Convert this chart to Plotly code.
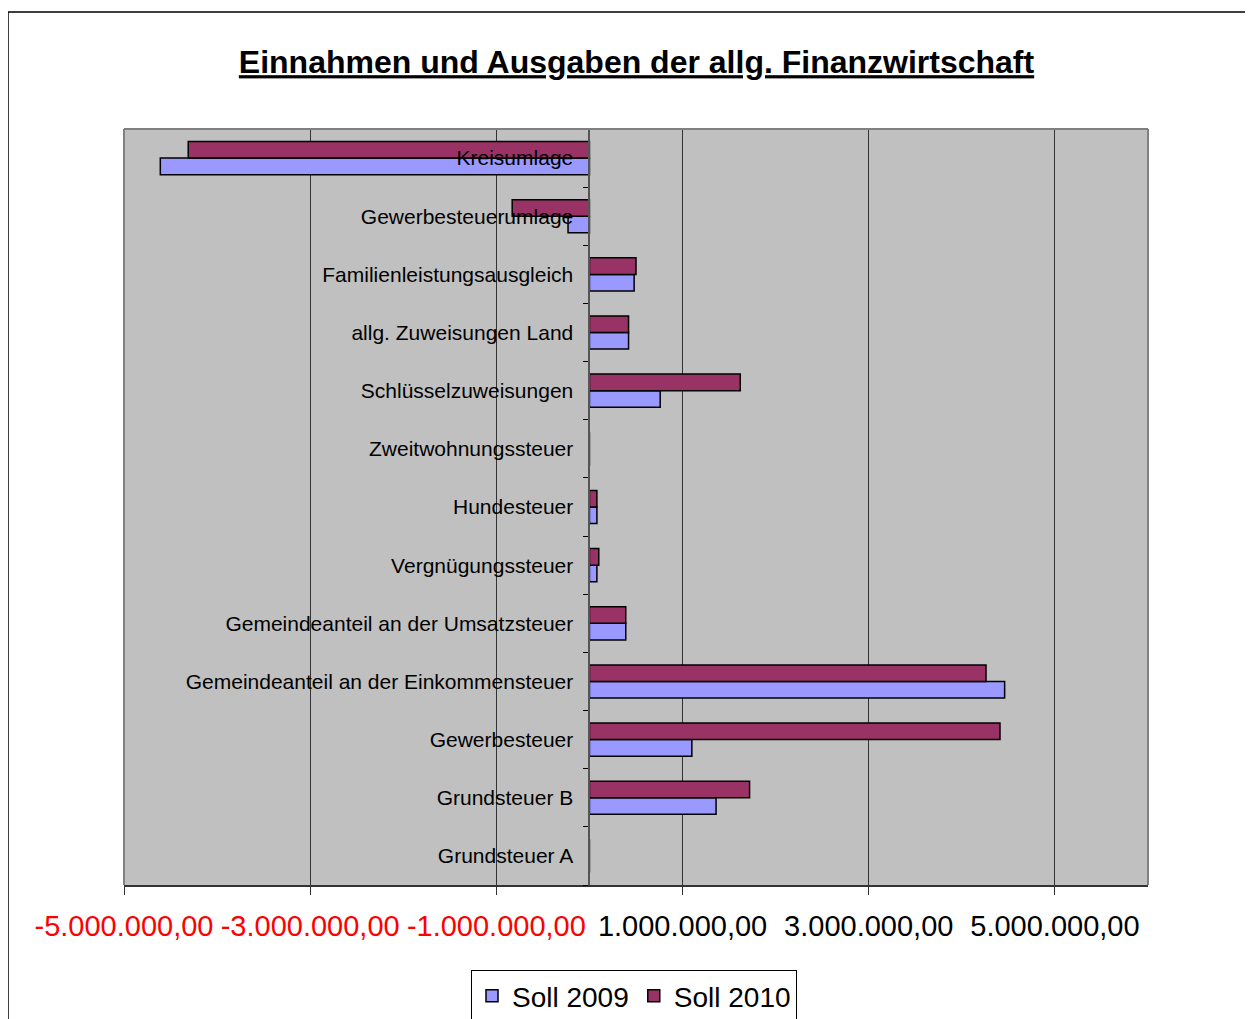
import plotly.graph_objects as go

categories = [
    "Kreisumlage",
    "Gewerbesteuerumlage",
    "Familienleistungsausgleich",
    "allg. Zuweisungen Land",
    "Schlüsselzuweisungen",
    "Zweitwohnungssteuer",
    "Hundesteuer",
    "Vergnügungssteuer",
    "Gemeindeanteil an der Umsatzsteuer",
    "Gemeindeanteil an der Einkommensteuer",
    "Gewerbesteuer",
    "Grundsteuer B",
    "Grundsteuer A",
]
soll_2009 = [-4610000, -230000, 480000, 420000, 760000, 0, 80000, 80000, 390000, 4460000, 1100000, 1360000, 0]
soll_2010 = [-4310000, -830000, 500000, 420000, 1620000, 0, 80000, 100000, 390000, 4260000, 4410000, 1720000, 0]
tick_values = [-5000000, -3000000, -1000000, 1000000, 3000000, 5000000]
x_min, x_max = -5000000, 6000000


def fmt_de(v):
    s = f"{abs(v):,.2f}".replace(",", "X").replace(".", ",").replace("X", ".")
    return ("-" if v < 0 else "") + s


tick_text = [
    (f'<span style="color:#FF0000">{fmt_de(v)}</span>' if v < 0 else fmt_de(v))
    for v in tick_values
]

FONT = "Liberation Sans, Arial, sans-serif"

fig = go.Figure()
fig.add_trace(go.Bar(
    y=categories, x=soll_2009, name="Soll 2009", orientation="h",
    marker=dict(color="#9999FF", line=dict(color="#000000", width=1.5)),
))
fig.add_trace(go.Bar(
    y=categories, x=soll_2010, name="Soll 2010", orientation="h",
    marker=dict(color="#993366", line=dict(color="#000000", width=1.5)),
))

# page body adds an 8px offset; target pixel positions are compensated
OFF = 8
W, H = 1253, 1019
L, R, T, B = 124 - OFF, 1148 - OFF, 129 - OFF, 885 - OFF


def px(xp):
    return (xp - OFF - L) / (R - L)


def py(yp):
    return (B - (yp - OFF)) / (B - T)


shapes = [
    dict(type="line", xref="paper", yref="paper", x0=0, x1=1, y0=1, y1=1,
         line=dict(color="#808080", width=2), layer="above"),
    dict(type="line", xref="paper", yref="paper", x0=0, x1=0, y0=0, y1=1,
         line=dict(color="#808080", width=2), layer="above"),
    dict(type="line", xref="paper", yref="paper", x0=1, x1=1, y0=0, y1=1,
         line=dict(color="#808080", width=2), layer="above"),
    dict(type="rect", xref="paper", yref="paper",
         x0=px(8), x1=px(1270), y0=py(1040), y1=py(12),
         line=dict(color="#000000", width=1.5), layer="below"),
]

fig.update_layout(
    width=W, height=H,
    margin=dict(l=L, r=W - R, t=T, b=H - B, autoexpand=False),
    paper_bgcolor="#FFFFFF",
    plot_bgcolor="#C0C0C0",
    barmode="group",
    bargap=0.43,
    bargroupgap=0,
    font=dict(family=FONT, color="#000000"),
    title=dict(
        text="<b><u>Einnahmen und Ausgaben der allg. Finanzwirtschaft</u></b>",
        font=dict(family=FONT, size=32, color="#000000"),
        x=px(636.5), xref="paper", xanchor="center",
        y=1 - (62 - OFF) / H, yref="container", yanchor="middle",
    ),
    xaxis=dict(
        range=[x_min, x_max],
        tickvals=tick_values, ticktext=tick_text,
        tickfont=dict(family=FONT, size=29, color="#000000"),
        showgrid=True, gridcolor="#333333", gridwidth=1,
        zeroline=False,
        showline=True, linecolor="#333333", linewidth=2,
        ticks="outside", ticklen=8, tickcolor="#333333", tickwidth=1,
        ticklabelstandoff=6,
    ),
    yaxis=dict(
        categoryorder="array", categoryarray=categories[::-1],
        anchor="free", position=(0 - x_min) / (x_max - x_min),
        side="left",
        showline=True, linecolor="#555555", linewidth=2,
        ticks="outside", ticklen=5, tickcolor="#000000", tickwidth=1,
        tickson="boundaries",
        showgrid=False, zeroline=False,
        tickfont=dict(family=FONT, size=21, color="#000000"),
        ticklabelstandoff=11,
    ),
    legend=dict(
        orientation="h",
        x=px(634), xanchor="center",
        y=py(970), yanchor="top",
        font=dict(family=FONT, size=28, color="#000000"),
        bgcolor="#FFFFFF", bordercolor="#000000", borderwidth=1,
        traceorder="normal",
    ),
    shapes=shapes,
    showlegend=True,
)

fig.write_html("out.html")
